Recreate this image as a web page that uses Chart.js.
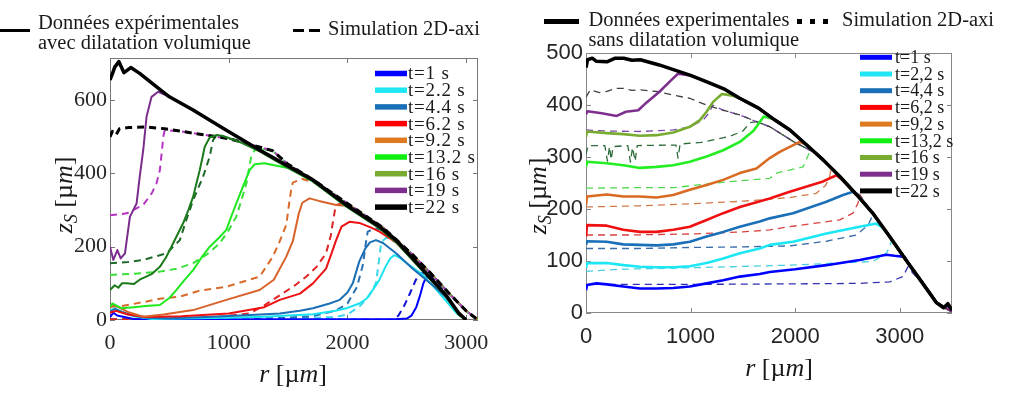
<!DOCTYPE html>
<html lang="fr">
<head>
<meta charset="UTF-8">
<title>Profils zS(r)</title>
<script src="https://cdn.jsdelivr.net/npm/chart.js"></script>
<style>
  body { margin: 0; background: #fff; }
  #page { position: relative; width: 1024px; height: 397px; overflow: hidden; font-family: "Liberation Serif", serif; color: #1a1a1a; }
  .pane { position: absolute; top: 0; width: 512px; height: 397px; }
  .lg { position: absolute; font-size: 20.5px; line-height: 20px; white-space: nowrap; }
  .sw { position: absolute; background: #000; }
</style>
</head>
<body>
<div id="page">
  <div class="pane" style="left:0"><canvas id="leftChart" width="512" height="397"></canvas></div>
  <div class="pane" style="left:512px"><canvas id="rightChart" width="512" height="397"></canvas></div>

  <!-- legende du haut, panneau gauche -->
  <div class="sw" style="left:0;top:29px;width:30px;height:3px"></div>
  <div class="lg" style="left:38px;top:11.5px">Données expérimentales<br>avec dilatation volumique</div>
  <div class="sw" style="left:293px;top:29px;width:11px;height:3px"></div>
  <div class="sw" style="left:309px;top:29px;width:11px;height:3px"></div>
  <div class="lg" style="left:328px;top:18px">Simulation 2D-axi</div>

  <!-- legende du haut, panneau droit -->
  <div class="sw" style="left:544px;top:18.5px;width:35px;height:5px"></div>
  <div class="lg" style="left:588.5px;top:9px">Données experimentales<br>sans dilatation volumique</div>
  <div class="sw" style="left:797px;top:19px;width:5px;height:5px"></div>
  <div class="sw" style="left:810px;top:19px;width:5px;height:5px"></div>
  <div class="sw" style="left:823px;top:19px;width:5px;height:5px"></div>
  <div class="lg" style="left:842px;top:9px">Simulation 2D-axi</div>
</div>
<script>
// ---- graduations
const leftXTicks = [0, 1000, 2000, 3000];
const leftYTicks = [0, 200, 400, 600];
const rightXTicks = [0, 1000, 2000, 3000];
const rightYTicks = [0, 100, 200, 300, 400, 500];

const leftTimes = ['t=1 s', 't=2.2 s', 't=4.4 s', 't=6.2 s', 't=9.2 s', 't=13.2 s', 't=16 s', 't=19 s', 't=22 s'];
const rightTimes = ['t=1 s', 't=2,2 s', 't=4,4 s', 't=6,2 s', 't=9,2 s', 't=13,2 s', 't=16 s', 't=19 s', 't=22 s'];

// ---- panneau gauche : experience (r [um], zS [um])
const leftExp1 = [[0,8],[30,20],[60,12],[200,3],[500,2],[1000,2],[1500,2],[2000,2],[2400,2],[2500,4],[2540,12],[2580,35],[2610,65],[2640,100],[2665,118],[2700,112],[2830,66],[2940,18],[3000,0]];
const leftExp2 = [[0,25],[40,32],[100,22],[200,10],[350,3],[600,4],[1000,6],[1300,9],[1500,12],[1710,16],[1900,25],[2000,33],[2100,45],[2160,58],[2220,85],[2270,110],[2320,145],[2360,168],[2395,177],[2440,170],[2500,155],[2630,125],[2750,82],[2850,45],[2920,18],[3000,0]];
const leftExp4 = [[0,22],[40,30],[100,22],[200,12],[300,6],[500,5],[800,8],[1100,12],[1430,18],[1600,25],[1710,32],[1850,45],[1935,55],[2000,75],[2045,100],[2100,160],[2150,195],[2190,212],[2240,218],[2300,210],[2410,182],[2550,140],[2700,100],[2830,62],[2940,18],[3000,0]];
const leftExp6 = [[0,20],[50,25],[150,15],[300,8],[600,10],[1000,18],[1300,35],[1430,55],[1600,72],[1710,100],[1820,140],[1870,185],[1905,218],[1950,255],[2017,268],[2100,265],[2200,252],[2270,241],[2410,212],[2550,165],[2700,115],[2830,66],[2940,18],[3000,0]];
const leftExp9 = [[0,36],[40,40],[150,22],[280,9],[450,15],[700,27],[980,55],[1260,82],[1380,110],[1485,173],[1540,215],[1590,290],[1620,320],[1681,332],[1760,325],[1905,314],[1990,312],[2270,255],[2410,218],[2550,168],[2690,118],[2830,68],[2940,18],[3000,0]];
const leftExp13 = [[0,36],[20,45],[50,40],[100,32],[200,35],[300,38],[420,41],[500,60],[560,82],[630,110],[700,136],[770,170],[840,200],[920,225],[980,246],[1030,290],[1064,318],[1120,364],[1176,409],[1220,425],[1300,428],[1373,423],[1500,415],[1710,378],[1990,310],[2270,252],[2410,215],[2550,165],[2690,116],[2830,66],[2940,16],[3000,0]];
const leftExp16 = [[0,82],[40,95],[70,88],[100,100],[140,100],[200,98],[250,110],[350,125],[420,145],[470,170],[504,191],[560,228],[616,264],[660,300],[700,336],[730,375],[756,409],[780,445],[798,473],[840,498],[900,505],[952,502],[1100,485],[1260,460],[1500,415],[1710,378],[1990,310],[2270,250],[2410,212],[2550,163],[2690,114],[2830,64],[2940,14],[3000,0]];
const leftExp19 = [[0,200],[28,164],[62,191],[90,168],[126,182],[168,282],[224,318],[250,390],[280,464],[308,555],[350,609],[406,623],[504,609],[700,573],[980,518],[1260,464],[1500,420],[1710,382],[1990,314],[2270,255],[2410,218],[2550,168],[2690,118],[2830,68],[2940,18],[3000,0]];
const leftExp22 = [[0,655],[20,672],[40,690],[75,705],[118,675],[175,689],[250,673],[390,637],[500,609],[700,573],[980,518],[1260,464],[1500,420],[1710,382],[1990,314],[2270,255],[2410,218],[2550,168],[2690,118],[2830,68],[2940,18],[3000,0]];

// ---- panneau gauche : simulation
const leftSim1 = [[0,1],[1000,1],[2000,1],[2380,1],[2430,12],[2480,40],[2530,75],[2570,105],[2605,127],[2650,128],[2700,120],[2850,74],[3000,25],[3100,0]];
const leftSim2 = [[0,3],[500,3],[1000,3],[1500,4],[1900,8],[2000,15],[2100,36],[2180,65],[2240,100],[2265,160],[2280,200],[2290,214],[2330,225],[2410,212],[2550,176],[2700,128],[2850,75],[3000,25],[3100,0]];
const leftSim4 = [[0,3],[500,3],[1000,3],[1400,5],[1700,10],[1900,25],[2000,45],[2080,90],[2130,150],[2160,220],[2171,241],[2230,250],[2300,245],[2410,215],[2550,176],[2700,128],[2850,75],[3000,25],[3100,0]];
const leftSim6 = [[0,2],[200,2],[600,4],[900,8],[1176,18],[1300,40],[1456,73],[1560,95],[1652,118],[1740,145],[1820,182],[1860,230],[1876,264],[1895,300],[1904,314],[1950,318],[2000,316],[2300,252],[2550,178],[2700,128],[2850,75],[3000,25],[3100,0]];
const leftSim9 = [[0,36],[100,38],[300,50],[420,58],[588,64],[756,80],[980,91],[1176,110],[1260,118],[1372,173],[1430,215],[1485,260],[1510,320],[1526,355],[1540,375],[1620,385],[1750,372],[2000,318],[2300,252],[2550,178],[2700,128],[2850,75],[3000,25],[3100,0]];
const leftSim13 = [[0,123],[200,126],[420,132],[560,140],[700,155],[820,180],[924,209],[1000,245],[1064,282],[1110,330],[1149,373],[1175,420],[1190,446],[1230,470],[1370,462],[1500,425],[1700,385],[2000,318],[2300,252],[2550,178],[2700,128],[2850,75],[3000,25],[3100,0]];
const leftSim16 = [[0,155],[150,158],[280,164],[476,182],[588,218],[640,270],[700,327],[784,391],[840,446],[868,491],[900,505],[1000,495],[1150,482],[1370,462],[1500,425],[1700,385],[2000,318],[2300,252],[2550,178],[2700,128],[2850,75],[3000,25],[3100,0]];
const leftSim19 = [[0,286],[140,291],[280,314],[350,345],[392,373],[420,409],[440,470],[448,500],[462,518],[600,515],[800,505],[1000,495],[1150,482],[1370,462],[1500,425],[1700,385],[2000,318],[2300,252],[2550,178],[2700,128],[2850,75],[3000,25],[3100,0]];
const leftSim22 = [[0,500],[20,515],[50,505],[80,522],[150,525],[300,527],[460,522],[600,515],[800,505],[1000,495],[1150,482],[1370,462],[1500,425],[1700,385],[2000,318],[2300,252],[2550,178],[2700,128],[2850,75],[3000,25],[3100,0]];

// ---- panneau droit : experience
const rightExp1 = [[0,44],[10,54],[100,57],[200,55],[357,51],[516,47],[675,47],[834,48],[993,51],[1153,57],[1312,63],[1471,70],[1662,75],[1757,79],[2000,84],[2299,92],[2617,102],[2872,112],[2950,110],[3047,108],[3100,90],[3160,75],[3220,57],[3350,20],[3420,10],[3460,15],[3500,3]];
const rightExp2 = [[0,86],[10,96],[198,96],[357,92],[516,89],[675,88],[834,88],[993,90],[1153,96],[1312,105],[1471,115],[1662,124],[1757,131],[1980,137],[2299,153],[2617,166],[2776,172],[2830,165],[2900,148],[3060,102],[3220,57],[3350,20],[3500,3]];
const rightExp4 = [[0,131],[10,138],[198,137],[357,132],[516,131],[675,130],[834,132],[993,137],[1153,147],[1312,156],[1471,166],[1662,176],[1757,182],[1980,192],[2299,214],[2458,227],[2554,233],[2600,228],[2750,190],[2900,148],[3060,102],[3220,57],[3350,20],[3500,3]];
const rightExp6 = [[0,147],[10,169],[198,168],[357,160],[516,156],[675,156],[834,160],[993,166],[1153,179],[1312,192],[1471,204],[1757,220],[1948,233],[2267,253],[2394,265],[2440,258],[2590,227],[2750,190],[2900,148],[3060,102],[3220,57],[3350,20],[3500,3]];
const rightExp9 = [[0,208],[10,224],[198,228],[357,224],[516,224],[675,222],[834,227],[993,237],[1153,246],[1312,256],[1471,269],[1630,278],[1757,298],[1853,310],[2044,329],[2100,325],[2270,294],[2430,262],[2590,227],[2750,190],[2900,148],[3060,102],[3220,57],[3350,20],[3500,3]];
const rightExp13 = [[0,281],[10,291],[198,288],[357,284],[516,279],[675,281],[834,284],[993,291],[1153,301],[1312,313],[1471,329],[1600,350],[1700,378],[1760,375],[1800,372],[1950,352],[2100,325],[2270,294],[2430,262],[2590,227],[2750,190],[2900,148],[3060,102],[3220,57],[3350,20],[3500,3]];
const rightExp16 = [[0,339],[10,349],[198,346],[357,344],[516,341],[675,342],[834,347],[993,358],[1089,371],[1153,387],[1216,406],[1300,421],[1400,418],[1500,410],[1650,394],[1800,372],[1950,352],[2100,325],[2270,294],[2430,262],[2590,227],[2750,190],[2900,148],[3060,102],[3220,57],[3350,20],[3500,3]];
const rightExp19 = [[0,382],[15,388],[150,384],[293,379],[382,387],[500,390],[580,405],[700,425],[800,445],[880,460],[1000,457],[1150,445],[1330,430],[1470,413],[1650,394],[1800,372],[1950,352],[2100,325],[2270,294],[2430,262],[2590,227],[2750,190],[2900,148],[3060,102],[3220,57],[3350,20],[3500,3]];
const rightExp22 = [[0,472],[15,487],[60,490],[100,484],[200,483],[280,490],[360,490],[440,486],[520,487],[700,477],[850,467],[1000,457],[1150,445],[1330,430],[1470,413],[1650,394],[1800,372],[1950,352],[2100,325],[2270,294],[2430,262],[2590,227],[2750,190],[2900,148],[3060,102],[3220,57],[3350,20],[3420,10],[3460,18],[3500,5]];

// ---- panneau droit : simulation
const rightSim1 = [[0,50],[20,55],[300,55],[1000,55],[1948,56],[2617,57],[2904,60],[3031,70],[3079,89],[3120,78],[3220,57],[3350,20],[3500,3]];
const rightSim2 = [[0,80],[300,84],[1000,87],[1948,92],[2744,99],[2872,115],[2904,127],[2925,142],[2960,135],[3060,102],[3220,57],[3350,20],[3500,3]];
const rightSim4 = [[0,124],[500,124],[1000,126],[1471,127],[1948,129],[2300,138],[2585,150],[2697,169],[2728,182],[2745,192],[2900,148],[3060,102],[3220,57],[3350,20],[3500,3]];
const rightSim6 = [[0,150],[400,150],[1000,152],[1500,156],[1757,160],[1948,166],[2426,179],[2553,192],[2601,211],[2617,228],[2750,190],[2900,148],[3060,102],[3220,57],[3350,20],[3500,3]];
const rightSim9 = [[0,204],[500,206],[1000,210],[1500,215],[1948,222],[2200,230],[2290,245],[2330,262],[2347,281],[2430,262],[2590,227],[2750,190],[2900,148],[3060,102],[3220,57],[3350,20],[3500,3]];
const rightSim13 = [[0,240],[500,241],[834,241],[1344,252],[1757,259],[1822,269],[2076,281],[2124,303],[2150,316],[2270,294],[2430,262],[2590,227],[2750,190],[2900,148],[3060,102],[3220,57],[3350,20],[3500,3]];
const rightSim16 = [[0,305],[20,322],[180,322],[205,292],[225,320],[240,295],[260,320],[400,322],[425,290],[445,318],[470,292],[490,322],[860,323],[880,298],[900,325],[1100,328],[1380,340],[1500,350],[1570,366],[1630,368],[1760,358],[1980,330],[2200,307],[2270,294],[2430,262],[2590,227],[2750,190],[2900,148],[3060,102],[3220,57],[3350,20],[3500,3]];
const rightSim19 = [[0,352],[200,350],[516,349],[834,352],[993,358],[1121,371],[1185,387],[1210,400],[1310,390],[1470,381],[1630,368],[1760,358],[1980,330],[2200,307],[2270,294],[2430,262],[2590,227],[2750,190],[2900,148],[3060,102],[3220,57],[3350,20],[3500,3]];
const rightSim22 = [[0,415],[40,429],[130,424],[200,426],[280,432],[360,432],[440,428],[520,429],[680,426],[830,419],[990,413],[1150,400],[1310,390],[1470,381],[1630,368],[1760,358],[1980,330],[2200,307],[2270,294],[2430,262],[2590,227],[2750,190],[2900,148],[3060,102],[3220,57],[3350,20],[3500,3]];

const leftExp = [leftExp1, leftExp2, leftExp4, leftExp6, leftExp9, leftExp13, leftExp16, leftExp19, leftExp22];
const leftSim = [leftSim1, leftSim2, leftSim4, leftSim6, leftSim9, leftSim13, leftSim16, leftSim19, leftSim22];
const rightExp = [rightExp1, rightExp2, rightExp4, rightExp6, rightExp9, rightExp13, rightExp16, rightExp19, rightExp22];
const rightSim = [rightSim1, rightSim2, rightSim4, rightSim6, rightSim9, rightSim13, rightSim16, rightSim19, rightSim22];

// couleurs
const legendColors = ['#0000ff', '#1fe6f5', '#1a70b8', '#ff0000', '#e07a20', '#11ee11', '#77ac30', '#7e2f8e', '#000000'];
const leftExpColors = ['#0000ff', '#19e3ef', '#1a6fb5', '#ee1111', '#d8622a', '#1ee81e', '#1b7a1b', '#7b2d8e', '#000000'];
const leftSimColors = ['#1010d0', '#3ad8ea', '#2a70b0', '#e02424', '#d86a2a', '#3ae03a', '#1f6a2a', '#b534c4', '#000000'];
const rightExpColors = ['#0000ff', '#1de6f5', '#1a70b8', '#ee1111', '#d96a22', '#22ee22', '#77ac30', '#7e2f8e', '#000000'];
const rightSimColors = ['#3030b0', '#44d0e0', '#3a6ea8', '#d84040', '#d07a4a', '#50d850', '#2d6b3a', '#7e4aa8', '#404040'];

function toXY(arr) {
  return arr.map(p => ({ x: p[0], y: p[1] }));
}

function makeDatasets(exp, sim, expColors, simColors, st) {
  const sets = [];
  // index 0 is drawn on top
  for (let i = exp.length - 1; i >= 0; i--) {
    sets.push({
      data: toXY(exp[i]),
      borderColor: expColors[i],
      borderWidth: i === exp.length - 1 ? st.expBlack : st.exp,
      borderDash: []
    });
  }
  for (let i = sim.length - 1; i >= 0; i--) {
    sets.push({
      data: toXY(sim[i]),
      borderColor: simColors[i],
      borderWidth: i === sim.length - 1 ? st.simBlack : st.sim,
      borderDash: st.dash
    });
  }
  return sets;
}

// texte en italique avec indice (zS) ou simple (r)
function drawMixed(ctx, parts, cx, cy, rot) {
  ctx.save();
  ctx.translate(cx, cy);
  ctx.rotate(rot);
  ctx.textBaseline = 'alphabetic';
  ctx.fillStyle = '#1a1a1a';
  let total = 0;
  parts.forEach(p => { ctx.font = p.font; total += ctx.measureText(p.t).width; });
  let x = -total / 2;
  parts.forEach(p => {
    ctx.font = p.font;
    ctx.fillText(p.t, x, p.dy || 0);
    x += ctx.measureText(p.t).width;
  });
  ctx.restore();
}

function titleParts(size, withSub) {
  const it = 'italic ' + size + 'px "Liberation Serif"';
  const up = size + 'px "Liberation Serif"';
  const sub = 'italic ' + Math.round(size * 0.7) + 'px "Liberation Serif"';
  const base = size * 0.33;
  const parts = withSub
    ? [{ t: 'z', font: it, dy: base }, { t: 'S', font: sub, dy: base + size * 0.2 }]
    : [{ t: 'r', font: it, dy: base }];
  return parts.concat([
    { t: ' [', font: up, dy: base }, { t: 'µ', font: up, dy: base },
    { t: 'm', font: it, dy: base }, { t: ']', font: up, dy: base }
  ]);
}

function decor(cfg) {
  return {
    id: 'decor',
    beforeDatasetsDraw(chart) {
      const { ctx, chartArea: a, scales: { x, y } } = chart;
      ctx.save();
      ctx.strokeStyle = cfg.boxColor;
      ctx.lineWidth = 1;
      ctx.strokeRect(a.left + 0.5, a.top + 0.5, a.right - a.left - 1, a.bottom - a.top - 1);
      ctx.beginPath();
      cfg.xTicks.forEach(v => {
        const p = Math.round(x.getPixelForValue(v)) + 0.5;
        ctx.moveTo(p, a.bottom); ctx.lineTo(p, a.bottom - cfg.tick);
        ctx.moveTo(p, a.top); ctx.lineTo(p, a.top + cfg.tick);
      });
      cfg.yTicks.forEach(v => {
        const p = Math.round(y.getPixelForValue(v)) + 0.5;
        ctx.moveTo(a.left, p); ctx.lineTo(a.left + cfg.tick, p);
        ctx.moveTo(a.right, p); ctx.lineTo(a.right - cfg.tick, p);
      });
      ctx.stroke();
      ctx.restore();
    },
    afterDatasetsDraw(chart) {
      const ctx = chart.ctx;
      const L = cfg.legend;
      ctx.save();
      L.labels.forEach((lab, i) => {
        const yy = L.y0 + i * L.dy;
        ctx.fillStyle = legendColors[i];
        ctx.fillRect(L.x0, yy - L.h / 2, L.w, L.h);
        ctx.fillStyle = '#1a1a1a';
        ctx.font = L.font;
        if ('letterSpacing' in ctx) ctx.letterSpacing = L.spacing;
        ctx.textBaseline = 'middle';
        ctx.fillText(lab, L.tx, yy + 1);
      });
      ctx.restore();
      drawMixed(ctx, titleParts(cfg.titleSize, true), cfg.yTitle[0], cfg.yTitle[1], -Math.PI / 2);
      drawMixed(ctx, titleParts(cfg.titleSize, false), cfg.xTitle[0], cfg.xTitle[1], 0);
    }
  };
}

function makeChart(id, p) {
  const tickFont = { family: p.tickFamily, size: p.tickSize };
  return new Chart(document.getElementById(id), {
    type: 'line',
    data: { datasets: p.datasets },
    options: {
      responsive: false,
      animation: false,
      events: [],
      layout: { padding: p.padding },
      elements: {
        point: { radius: 0 },
        line: { tension: 0, borderJoinStyle: 'round' }
      },
      plugins: { legend: { display: false }, tooltip: { enabled: false } },
      scales: {
        x: {
          type: 'linear', min: 0, max: p.xMax,
          afterBuildTicks: s => { s.ticks = p.xTicks.map(v => ({ value: v })); },
          afterFit: s => { s.height = p.xHeight; },
          grid: { display: false, drawTicks: false },
          border: { display: false },
          ticks: { padding: p.xPad, color: '#262626', font: tickFont, maxRotation: 0, autoSkip: false, callback: v => String(v) }
        },
        y: {
          type: 'linear', min: 0, max: p.yMax,
          afterBuildTicks: s => { s.ticks = p.yTicks.map(v => ({ value: v })); },
          afterFit: s => { s.width = p.yWidth; },
          grid: { display: false, drawTicks: false },
          border: { display: false },
          ticks: { padding: 3, color: '#262626', font: tickFont, autoSkip: false, callback: v => String(v) }
        }
      }
    },
    plugins: [decor(p.decor)]
  });
}

makeChart('leftChart', {
  datasets: makeDatasets(leftExp, leftSim, leftExpColors, leftSimColors, { exp: 2, expBlack: 3.5, sim: 2, simBlack: 3, dash: [7, 5] }),
  padding: { left: 0, top: 58, right: 34, bottom: 0 },
  xMax: 3100, yMax: 715, xTicks: leftXTicks, yTicks: leftYTicks,
  xHeight: 77, yWidth: 110, xPad: 10,
  tickFamily: 'Liberation Serif', tickSize: 22,
  decor: {
    boxColor: '#777', tick: 5, xTicks: leftXTicks, yTicks: leftYTicks,
    titleSize: 26, yTitle: [63, 195], xTitle: [293, 373],
    legend: { labels: leftTimes, x0: 375, w: 32, h: 5.5, tx: 408, y0: 73.5, dy: 16.7, font: '19px "Liberation Serif"', spacing: '0.8px' }
  }
});

makeChart('rightChart', {
  datasets: makeDatasets(rightExp, rightSim, rightExpColors, rightSimColors, { exp: 2.6, expBlack: 3.5, sim: 1.3, simBlack: 1.3, dash: [7, 5] }),
  padding: { left: 0, top: 53, right: 72, bottom: 0 },
  xMax: 3500, yMax: 500, xTicks: rightXTicks, yTicks: rightYTicks,
  xHeight: 84, yWidth: 74, xPad: 11,
  tickFamily: 'Liberation Sans', tickSize: 22,
  decor: {
    boxColor: '#888', tick: 5, xTicks: rightXTicks, yTicks: rightYTicks,
    titleSize: 26, yTitle: [25, 196], xTitle: [267, 367],
    legend: { labels: rightTimes, x0: 348, w: 32, h: 5, tx: 383, y0: 57.3, dy: 16.7, font: '18px "Liberation Serif"', spacing: '0px' }
  }
});
</script>
</body>
</html>
